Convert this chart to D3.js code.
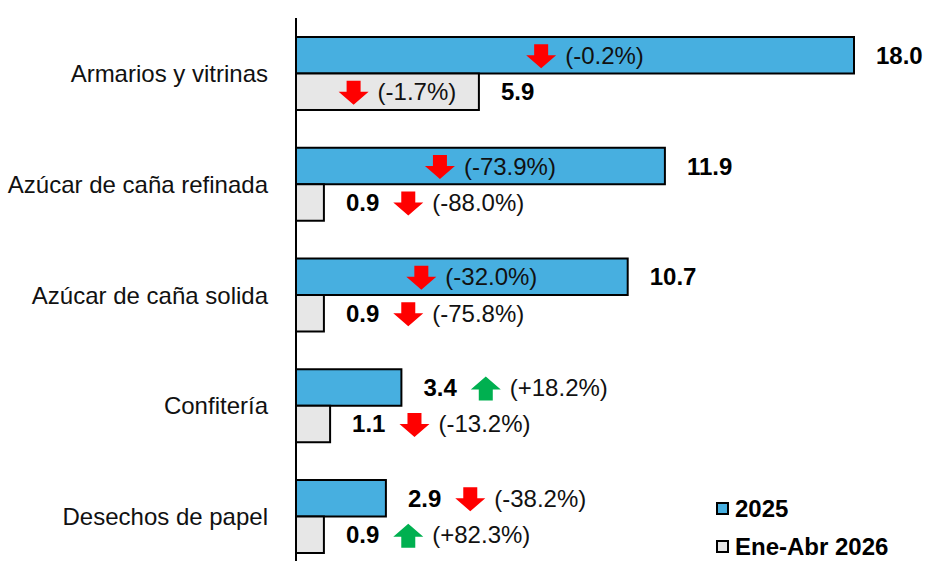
<!DOCTYPE html>
<html>
<head>
<meta charset="utf-8">
<script src="https://cdn.jsdelivr.net/npm/d3@7"></script>
<style>
    body { margin: 0; background: #ffffff; }
    text { font-family: "Liberation Sans", Arial, sans-serif; }
</style>
</head>
<body>
<script>
// chart data
var categories = ["Armarios y vitrinas", "Azúcar de caña refinada",
    "Azúcar de caña solida", "Confitería", "Desechos de papel"];
var seriesNames = ["2025", "Ene-Abr 2026"];
var values2025 = [18.0, 11.9, 10.7, 3.4, 2.9];
var values2026 = [5.9, 0.9, 0.9, 1.1, 0.9];
var change2025 = [-0.2, -73.9, -32.0, 18.2, -38.2];
var change2026 = [-1.7, -88.0, -75.8, -13.2, 82.3];

var width = 927,
    height = 561;

var colors = {"2025": "#47afe0", "Ene-Abr 2026": "#e7e7e7"};

var svg = d3.select("body").append("svg")
    .attr("width", width)
    .attr("height", height);

// scales
var x = d3.scaleLinear().domain([0, 18]).range([296, 854]);
var y = d3.scaleBand().domain(categories).range([18, 572])
    .paddingInner(0.341).paddingOuter(0.1716);
var ySub = d3.scaleBand().domain(seriesNames).range([0, y.bandwidth()]);

// build rows from the arrays
var rows = [];
categories.forEach(function(c, i) {
    rows.push({cat: c, series: "2025", value: values2025[i], change: change2025[i]});
    rows.push({cat: c, series: "Ene-Abr 2026", value: values2026[i], change: change2026[i]});
});

function fmtChange(v) {
    return "(" + (v > 0 ? "+" : "-") + Math.abs(v).toFixed(1) + "%)";
}

// block arrow centred on (cx, cy); up when the change is positive
function arrowPath(cx, cy, up) {
    var w = 30, h = 24, sw = 14, sh = 11;
    var s = up ? -1 : 1;
    var top = cy - s * h / 2;
    var mid = top + s * sh;
    var tip = cy + s * h / 2;
    return "M" + (cx - sw / 2) + "," + top +
        "L" + (cx + sw / 2) + "," + top +
        "L" + (cx + sw / 2) + "," + mid +
        "L" + (cx + w / 2) + "," + mid +
        "L" + cx + "," + tip +
        "L" + (cx - w / 2) + "," + mid +
        "L" + (cx - sw / 2) + "," + mid + "Z";
}

// bars
svg.selectAll("rect.bar")
    .data(rows)
    .enter()
    .append("rect")
    .attr("class", "bar")
    .attr("x", x(0))
    .attr("y", function(d) { return y(d.cat) + ySub(d.series); })
    .attr("width", function(d) { return x(d.value) - x(0); })
    .attr("height", ySub.bandwidth())
    .style("fill", function(d) { return colors[d.series]; })
    .style("stroke", "black")
    .style("stroke-width", "2px");

// vertical axis line
svg.append("line")
    .attr("x1", x(0)).attr("x2", x(0))
    .attr("y1", 18).attr("y2", height)
    .style("stroke", "black")
    .style("stroke-width", "2px");

// category labels
svg.selectAll("text.cat")
    .data(categories)
    .enter()
    .append("text")
    .attr("class", "cat")
    .attr("x", 268)
    .attr("y", function(d) { return y(d) + y.bandwidth() / 2 + 8.5; })
    .attr("text-anchor", "end")
    .style("font-size", "24px")
    .style("fill", "#111")
    .text(function(d) { return d; });

// value labels and change annotations
rows.forEach(function(d) {
    var cy = y(d.cat) + ySub(d.series) + ySub.bandwidth() / 2;
    var barW = x(d.value) - x(0);
    var up = d.change > 0;

    var val = svg.append("text")
        .attr("x", x(d.value) + 22)
        .attr("y", cy + 8.5)
        .style("font-size", "24px")
        .style("font-weight", "bold")
        .text(d.value.toFixed(1));

    var pct = svg.append("text")
        .attr("y", cy + 8.5)
        .style("font-size", "24px")
        .style("fill", "#111")
        .text(fmtChange(d.change));
    var pctW = pct.node().getComputedTextLength();

    var ax;
    if (barW > 150) {
        // wide bar: arrow + change sit centred inside the bar
        var groupW = 30 + 9 + pctW;
        var start = x(0) + barW / 2 + 10 - groupW / 2;
        ax = start + 15;
    } else {
        // narrow bar: arrow + change follow the value label
        var valEnd = x(d.value) + 22 + val.node().getComputedTextLength();
        ax = valEnd + 14 + 15;
    }
    pct.attr("x", ax + 15 + 9);

    svg.append("path")
        .attr("d", arrowPath(ax, cy + 1, up))
        .style("fill", up ? "#00b050" : "#ff0000");
});

// legend
var legend = svg.selectAll("g.legend")
    .data(seriesNames)
    .enter()
    .append("g")
    .attr("class", "legend")
    .attr("transform", function(d, i) { return "translate(717," + (503 + i * 38) + ")"; });

legend.append("rect")
    .attr("width", 11)
    .attr("height", 11)
    .style("fill", function(d) { return colors[d]; })
    .style("stroke", "black")
    .style("stroke-width", "2px");

legend.append("text")
    .attr("x", 18)
    .attr("y", 14)
    .style("font-size", "24px")
    .style("font-weight", "bold")
    .text(function(d) { return d; });
</script>
</body>
</html>
